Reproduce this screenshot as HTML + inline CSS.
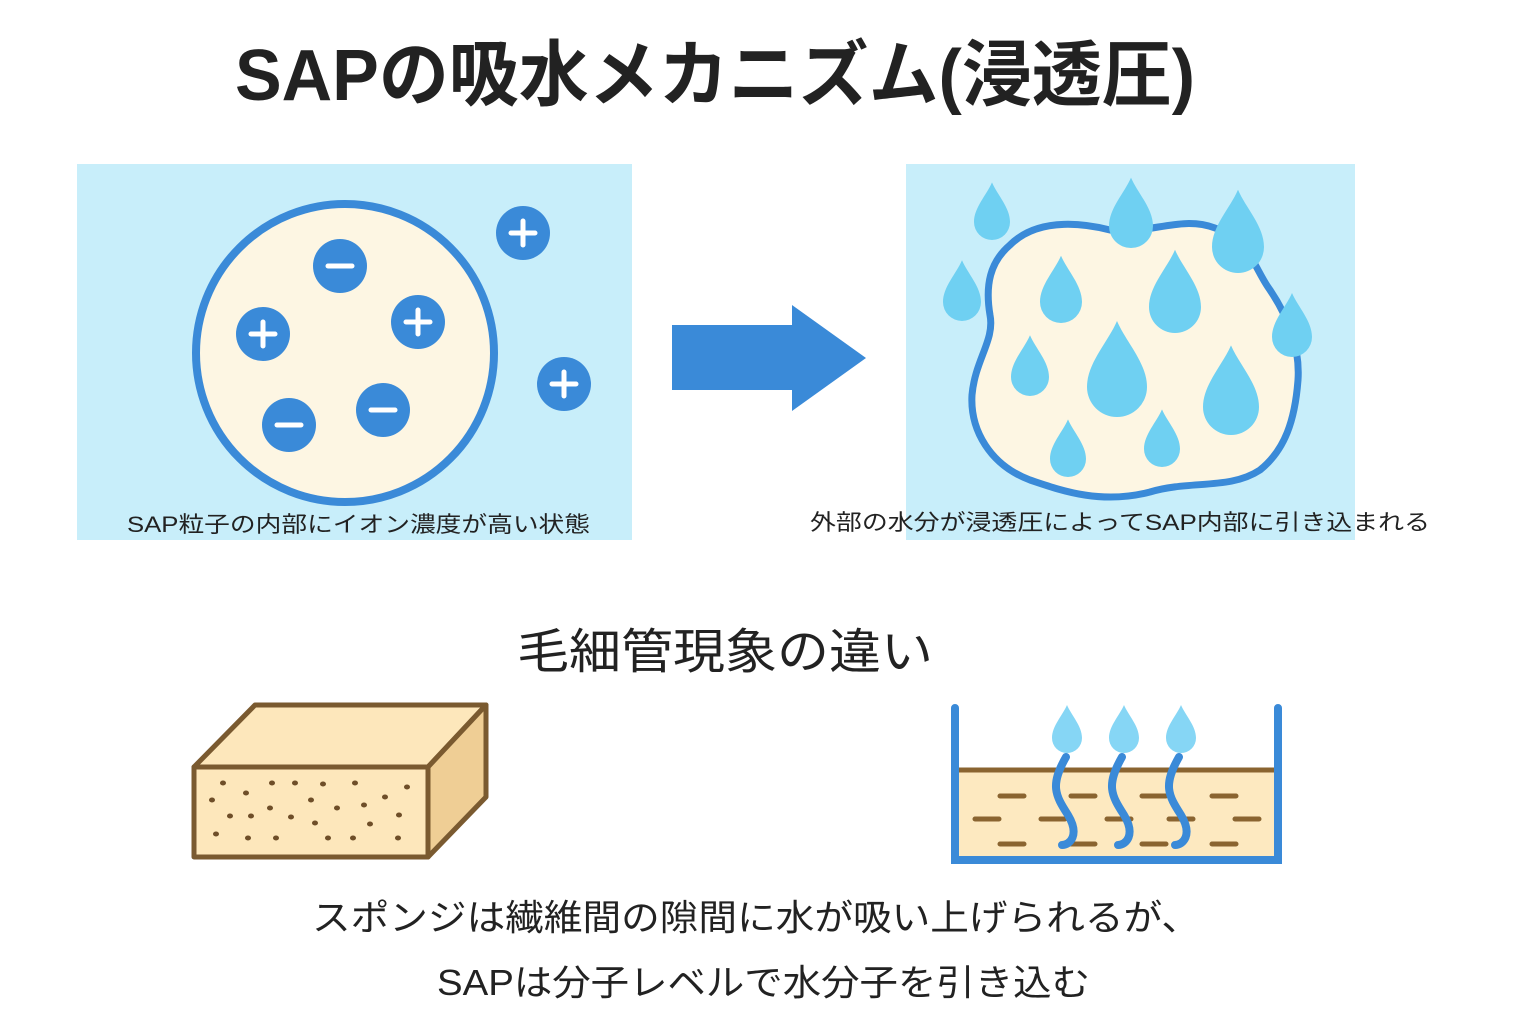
<!DOCTYPE html>
<html><head><meta charset="utf-8"><style>html,body{margin:0;padding:0;background:#fff}svg{display:block}text{font-family:"Liberation Sans","Noto Sans CJK JP",sans-serif;fill:#222}</style></head>
<body>
<svg width="1536" height="1024" viewBox="0 0 1536 1024" xmlns="http://www.w3.org/2000/svg">
<defs>
<path id="d" d="M0,-2.2 C0.3,-1.5 1,-0.8 1,0 A1,1 0 0 1 -1,0 C-1,-0.8 -0.3,-1.5 0,-2.2 Z"/>
</defs>
<text x="235" y="100" font-size="72" font-weight="bold" textLength="960" lengthAdjust="spacingAndGlyphs">SAPの吸水メカニズム(浸透圧)</text>

<rect x="77" y="164" width="555" height="376" fill="#c8eefa"/>
<circle cx="345" cy="353" r="149" fill="#fdf6e3" stroke="#3a8ad8" stroke-width="8"/>
<g fill="#3a8ad8">
<circle cx="523" cy="233" r="27"/><circle cx="340" cy="266" r="27"/><circle cx="418" cy="322" r="27"/><circle cx="263" cy="334" r="27"/><circle cx="564" cy="384" r="27"/><circle cx="383" cy="410" r="27"/><circle cx="289" cy="425" r="27"/>
</g>
<g stroke="#fff" stroke-width="5" stroke-linecap="round">
<path d="M511,233h24M523,221v24"/><path d="M328,266h24"/><path d="M406,322h24M418,310v24"/><path d="M251,334h24M263,322v24"/><path d="M552,384h24M564,372v24"/><path d="M371,410h24"/><path d="M277,425h24"/>
</g>
<text x="127" y="532" font-size="22" textLength="463" lengthAdjust="spacingAndGlyphs">SAP粒子の内部にイオン濃度が高い状態</text>

<polygon points="672,325 792,325 792,305 866,358 792,411 792,390 672,390" fill="#3a8ad8"/>

<rect x="906" y="164" width="449" height="376" fill="#c8eefa"/>
<path d="M1010,245 C1040,215 1090,225 1110,230 C1150,235 1180,215 1215,228 C1250,240 1255,270 1270,290 C1290,320 1300,350 1298,380 C1295,420 1285,450 1260,470 C1230,490 1190,480 1150,492 C1100,505 1060,490 1030,480 C990,465 970,430 972,395 C975,360 995,340 990,315 C985,285 990,262 1010,245 Z" fill="#fdf6e3" stroke="#3a8ad8" stroke-width="7"/>
<g fill="#6fd0f2">
<use href="#d" transform="translate(992,222) scale(18)"/>
<use href="#d" transform="translate(1131,226) scale(22)"/>
<use href="#d" transform="translate(1238,247) scale(26)"/>
<use href="#d" transform="translate(962,302) scale(19)"/>
<use href="#d" transform="translate(1061,302) scale(21)"/>
<use href="#d" transform="translate(1175,307) scale(26)"/>
<use href="#d" transform="translate(1292,337) scale(20)"/>
<use href="#d" transform="translate(1030,377) scale(19)"/>
<use href="#d" transform="translate(1117,387) scale(30)"/>
<use href="#d" transform="translate(1231,407) scale(28)"/>
<use href="#d" transform="translate(1068,459) scale(18)"/>
<use href="#d" transform="translate(1162,449) scale(18)"/>
</g>
<text x="810" y="530" font-size="22" textLength="620" lengthAdjust="spacingAndGlyphs">外部の水分が浸透圧によってSAP内部に引き込まれる</text>

<text x="517" y="668" font-size="48" textLength="416" lengthAdjust="spacingAndGlyphs">毛細管現象の違い</text>

<g stroke="#7a5a30" stroke-width="5" stroke-linejoin="round">
<polygon points="194,767 255,705 486,705 428,767" fill="#fde7bb"/>
<polygon points="428,767 486,705 486,797 428,857" fill="#efce95"/>
<rect x="194" y="767" width="234" height="90" fill="#fde7bb"/>
</g>
<g fill="#6e4e28">
<ellipse cx="223" cy="783" rx="3" ry="2.5"/><ellipse cx="246" cy="793" rx="3" ry="2.5"/><ellipse cx="272" cy="783" rx="3" ry="2.5"/><ellipse cx="295" cy="783" rx="3" ry="2.5"/><ellipse cx="323" cy="784" rx="3" ry="2.5"/><ellipse cx="355" cy="783" rx="3" ry="2.5"/><ellipse cx="407" cy="787" rx="3" ry="2.5"/>
<ellipse cx="212" cy="800" rx="3" ry="2.5"/><ellipse cx="311" cy="800" rx="3" ry="2.5"/><ellipse cx="385" cy="797" rx="3" ry="2.5"/><ellipse cx="364" cy="805" rx="3" ry="2.5"/><ellipse cx="337" cy="808" rx="3" ry="2.5"/><ellipse cx="270" cy="808" rx="3" ry="2.5"/>
<ellipse cx="230" cy="816" rx="3" ry="2.5"/><ellipse cx="251" cy="816" rx="3" ry="2.5"/><ellipse cx="291" cy="817" rx="3" ry="2.5"/><ellipse cx="315" cy="823" rx="3" ry="2.5"/><ellipse cx="370" cy="824" rx="3" ry="2.5"/><ellipse cx="399" cy="815" rx="3" ry="2.5"/>
<ellipse cx="216" cy="834" rx="3" ry="2.5"/><ellipse cx="248" cy="838" rx="3" ry="2.5"/><ellipse cx="276" cy="838" rx="3" ry="2.5"/><ellipse cx="328" cy="838" rx="3" ry="2.5"/><ellipse cx="353" cy="838" rx="3" ry="2.5"/><ellipse cx="398" cy="838" rx="3" ry="2.5"/>
</g>

<rect x="959" y="770" width="315" height="86" fill="#fde9c0"/>
<line x1="959" y1="770" x2="1274" y2="770" stroke="#8a6430" stroke-width="5"/>
<g stroke="#8a6430" stroke-width="5" stroke-linecap="round">
<path d="M1000,796h24M1071,796h24M1142,796h24M1212,796h24"/>
<path d="M975,819h24M1041,819h24M1107,819h24M1169,819h24M1235,819h24"/>
<path d="M1000,844h24M1071,844h24M1142,844h24M1212,844h24"/>
</g>
<g fill="#86d6f5">
<use href="#d" transform="translate(1067,738) scale(15)"/>
<use href="#d" transform="translate(1124,738) scale(15)"/>
<use href="#d" transform="translate(1181,738) scale(15)"/>
</g>
<g fill="none" stroke="#3a8ad8" stroke-width="8" stroke-linecap="round">
<path d="M1066,757 C1050,785 1055,795 1068,815 C1080,835 1070,845 1062,845"/>
<path d="M1122,757 C1106,785 1111,795 1124,815 C1136,835 1126,845 1118,845"/>
<path d="M1179,757 C1163,785 1168,795 1181,815 C1193,835 1183,845 1175,845"/>
<path d="M955,708 V860 H1278 V708"/>
</g>

<text x="312" y="930" font-size="36" textLength="888" lengthAdjust="spacingAndGlyphs">スポンジは繊維間の隙間に水が吸い上げられるが、</text>
<text x="437" y="995" font-size="36" textLength="653" lengthAdjust="spacingAndGlyphs">SAPは分子レベルで水分子を引き込む</text>
</svg>
</body></html>
